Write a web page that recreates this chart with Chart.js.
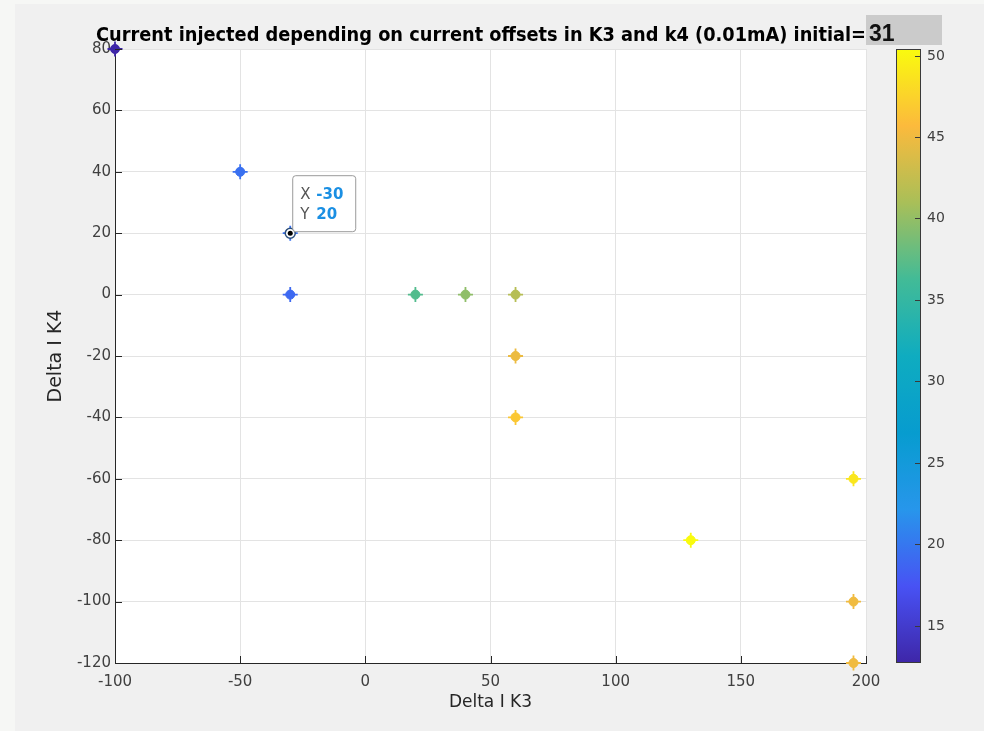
<!DOCTYPE html>
<html>
<head>
<meta charset="utf-8">
<script src="https://cdn.jsdelivr.net/npm/chart.js@4.4.1/dist/chart.umd.min.js"></script>
<style>
  html, body { margin: 0; padding: 0; background: #f6f7f5; }
  #wrap { position: absolute; left: 0; top: 0; width: 984px; height: 731px; }
</style>
</head>
<body>
<div id="wrap"><canvas id="mychart" width="984" height="731"></canvas></div>
<script>
// data
const k3 = [-100, -50, -30, -30, 20, 40, 60, 60, 60, 195, 130, 195, 195];
const k4 = [80, 40, 20, 0, 0, 0, 0, -20, -40, -60, -80, -100, -120];
const current = [12.7, 19.5, 19.5, 19, 37, 39.8, 41.7, 44.8, 46.6, 48.9, 50.4, 45, 45];
const xTicks = [-100, -50, 0, 50, 100, 150, 200];
const yTicks = [80, 60, 40, 20, 0, -20, -40, -60, -80, -100, -120];
const cbTicks = [15, 20, 25, 30, 35, 40, 45, 50];
const tipPoint = [-30, 20];
const initialValue = '31';

// parula colormap stops
const parula = [
  [62, 38, 168], [72, 82, 244], [39, 150, 235], [7, 156, 207], [15, 172, 192],
  [66, 187, 151], [169, 191, 88], [252, 186, 60], [249, 251, 14]
];
const cMin = Math.min(...current);
const cMax = Math.max(...current);

const colorAt = (t) => {
  t = Math.max(0, Math.min(1, t));
  const f = t * (parula.length - 1);
  const i = Math.min(parula.length - 2, Math.floor(f));
  const u = f - i;
  const a = parula[i], b = parula[i + 1];
  const c = a.map((v, k) => Math.round(v + (b[k] - v) * u));
  return 'rgb(' + c.join(',') + ')';
}
const colorFor = (v) => colorAt((v - cMin) / (cMax - cMin));

const points = k3.map((x, i) => ({ x: x, y: k4[i] }));
const pointColors = current.map(colorFor);

const decor = {
  id: 'decor',
  beforeDraw(chart) {
    const ctx = chart.ctx;
    const a = chart.chartArea;
    ctx.save();
    ctx.fillStyle = '#f6f7f5';
    ctx.fillRect(0, 0, chart.width, chart.height);
    ctx.fillStyle = '#f0f0f0';
    ctx.fillRect(15, 4, chart.width - 15, chart.height - 4);
    ctx.fillStyle = '#ffffff';
    ctx.fillRect(a.left, a.top, a.right - a.left, a.bottom - a.top);
    ctx.restore();
  },
  afterDraw(chart) {
    const ctx = chart.ctx;
    const a = chart.chartArea;
    const xs = chart.scales.x, ys = chart.scales.y;
    ctx.save();

    // inward tick marks
    ctx.strokeStyle = '#262626';
    ctx.lineWidth = 1;
    ctx.beginPath();
    xTicks.forEach(t => {
      const px = Math.round(xs.getPixelForValue(t)) + 0.5;
      ctx.moveTo(px, a.bottom); ctx.lineTo(px, a.bottom - 7);
    });
    yTicks.forEach(t => {
      const py = Math.round(ys.getPixelForValue(t)) + 0.5;
      ctx.moveTo(a.left, py); ctx.lineTo(a.left + 7, py);
    });
    ctx.stroke();

    // title
    const title = 'Current injected depending on current offsets in K3 and k4 (0.01mA) initial=';
    ctx.font = 'bold 19px "DejaVu Sans Condensed", "DejaVu Sans"';
    ctx.fillStyle = '#000000';
    ctx.textBaseline = 'alphabetic';
    ctx.textAlign = 'left';
    const w = ctx.measureText(title).width;
    ctx.save();
    ctx.translate(96, 41);
    ctx.scale(770 / w, 1);
    ctx.fillText(title, 0, 0);
    ctx.restore();

    // gray box with the initial value
    ctx.fillStyle = '#cbcbcb';
    ctx.fillRect(866, 15, 76, 30);
    ctx.fillStyle = '#111111';
    ctx.font = 'bold 23px "Liberation Sans", Arial';
    ctx.fillText(initialValue, 869, 41);

    // colorbar
    const cbL = 896, cbR = 921, cbT = a.top, cbB = a.bottom;
    const grad = ctx.createLinearGradient(0, cbB, 0, cbT);
    for (let i = 0; i <= 40; i++) grad.addColorStop(i / 40, colorAt(i / 40));
    ctx.fillStyle = grad;
    ctx.fillRect(cbL, cbT, cbR - cbL, cbB - cbT);
    ctx.strokeStyle = '#3a3a3a';
    ctx.strokeRect(cbL + 0.5, cbT + 0.5, cbR - cbL - 1, cbB - cbT - 1);
    ctx.font = '14px "DejaVu Sans"';
    ctx.fillStyle = '#404040';
    ctx.textBaseline = 'middle';
    ctx.beginPath();
    cbTicks.forEach(t => {
      const py = Math.round(cbB - (t - cMin) / (cMax - cMin) * (cbB - cbT)) + 0.5;
      ctx.moveTo(cbR - 1, py); ctx.lineTo(cbR - 6, py);
      ctx.fillText(String(t), cbR + 6, py);
    });
    ctx.stroke();

    // data tip
    const px = xs.getPixelForValue(tipPoint[0]);
    const py = ys.getPixelForValue(tipPoint[1]);
    ctx.beginPath();
    ctx.arc(px, py, 5, 0, Math.PI * 2);
    ctx.fillStyle = '#ffffff';
    ctx.fill();
    ctx.lineWidth = 1.5;
    ctx.strokeStyle = '#2c4f7c';
    ctx.stroke();
    ctx.beginPath();
    ctx.arc(px, py, 2.5, 0, Math.PI * 2);
    ctx.fillStyle = '#000000';
    ctx.fill();

    const bx = px + 2, by = py - 58, bw = 63, bh = 56;
    ctx.beginPath();
    ctx.roundRect(bx + 0.5, by + 0.5, bw, bh, 3);
    ctx.fillStyle = 'rgba(255,255,255,0.95)';
    ctx.fill();
    ctx.lineWidth = 1;
    ctx.strokeStyle = '#9a9a9a';
    ctx.stroke();
    ctx.textBaseline = 'alphabetic';
    ctx.font = '15px "DejaVu Sans"';
    ctx.fillStyle = '#555555';
    ctx.fillText('X', bx + 8, by + 24);
    ctx.fillText('Y', bx + 8, by + 44);
    ctx.font = 'bold 15px "DejaVu Sans"';
    ctx.fillStyle = '#1a8fe3';
    ctx.fillText(String(tipPoint[0]), bx + 24, by + 24);
    ctx.fillText(String(tipPoint[1]), bx + 24, by + 44);
    ctx.restore();
  }
};

const config = {
  type: 'scatter',
  data: {
    datasets: [
      {
        data: points,
        pointStyle: 'circle',
        pointRadius: 4.5,
        pointBackgroundColor: pointColors,
        pointBorderColor: pointColors,
        pointBorderWidth: 1,
        clip: false
      },
      {
        data: points,
        pointStyle: 'cross',
        pointRadius: 7.5,
        pointBorderColor: pointColors,
        pointBorderWidth: 1.8,
        clip: false
      }
    ]
  },
  options: {
    responsive: false,
    animation: false,
    events: [],
    layout: { padding: { left: 0, top: 49, right: 118, bottom: 0 } },
    plugins: { legend: { display: false }, tooltip: { enabled: false } },
    scales: {
      x: {
        type: 'linear',
        min: -100, max: 200,
        afterBuildTicks: (s) => { s.ticks = xTicks.map(v => ({ value: v })); },
        afterFit: (s) => { s.height = 68; },
        grid: { color: '#e3e3e3', drawTicks: false },
        border: { color: '#262626', width: 1 },
        ticks: { color: '#404040', font: { family: 'DejaVu Sans', size: 15 }, padding: 10, maxRotation: 0 },
        title: { display: true, text: 'Delta I K3', color: '#262626', font: { family: 'DejaVu Sans', size: 17 }, padding: { top: 0, bottom: 18 } }
      },
      y: {
        type: 'linear',
        min: -120, max: 80,
        afterBuildTicks: (s) => { s.ticks = yTicks.map(v => ({ value: v })); },
        afterFit: (s) => { s.width = 115; },
        grid: { color: '#e3e3e3', drawTicks: false },
        border: { color: '#262626', width: 1 },
        ticks: { color: '#404040', font: { family: 'DejaVu Sans', size: 15 }, padding: 4 },
        title: { display: true, text: 'Delta I K4', color: '#262626', font: { family: 'DejaVu Sans', size: 19 }, padding: { top: 45, bottom: 0 } }
      }
    }
  },
  plugins: [decor]
};

const mychart = new Chart(document.querySelector('#mychart'), config);
</script>
</body>
</html>
